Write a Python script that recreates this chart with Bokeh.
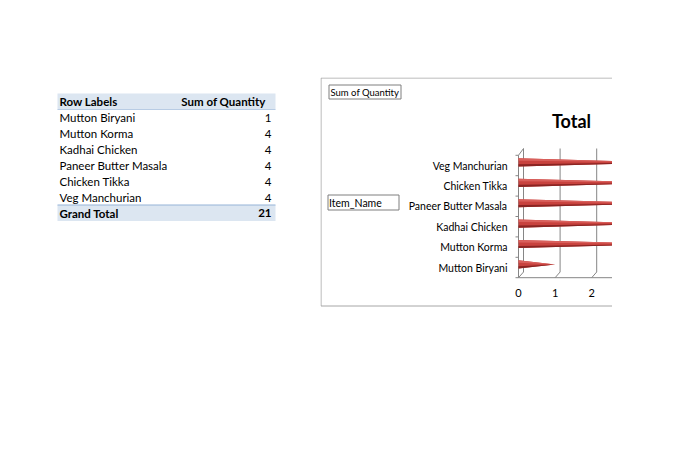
from bokeh.plotting import figure
from bokeh.models import Range1d, Spacer, ColumnDataSource
from bokeh.layouts import row, column
from bokeh.core.properties import value
from bokeh.embed import file_html
from bokeh.resources import INLINE

# ---------------- data ----------------
items = ["Mutton Biryani", "Mutton Korma", "Kadhai Chicken",
         "Paneer Butter Masala", "Chicken Tikka", "Veg Manchurian"]
quantity = [1, 4, 4, 4, 4, 4]
grand_total = 21
header_labels = ["Row Labels", "Sum of Quantity"]
total_label = "Grand Total"
x_ticks = [0, 1, 2]
chart_title = "Total"
value_field = "Sum of Quantity"
row_field = "Item_Name"

FONT = "Lato"
W, H = 680, 459

# ---------------- pivot table (left) ----------------
t = figure(width=320, height=H, x_range=Range1d(0, 320), y_range=Range1d(H, 0),
           output_backend="svg", toolbar_location=None, min_border=0)
t.axis.visible = False
t.grid.visible = False
t.outline_line_color = None
t.background_fill_color = "white"
t.border_fill_color = "white"

tbl_left, tbl_right = 57, 275
row_h = 16
first_y = 117
header_y = first_y - row_h
total_y = first_y + row_h * len(items) - 0.5
TS = "11.5px"

t.quad(left=[tbl_left], right=[tbl_right], top=[header_y - 8], bottom=[header_y + 8],
       fill_color="#DCE6F1", line_color=None)
t.quad(left=[tbl_left], right=[tbl_right], top=[total_y - 8], bottom=[total_y + 8],
       fill_color="#DCE6F1", line_color=None)
t.segment(x0=[tbl_left], x1=[tbl_right], y0=[header_y + 8], y1=[header_y + 8],
          line_color="#B8CCE4", line_width=1)
t.segment(x0=[tbl_left], x1=[tbl_right], y0=[total_y - 8], y1=[total_y - 8],
          line_color="#95B3D7", line_width=1)

row_ys = [first_y + row_h * i for i in range(len(items))]
src = ColumnDataSource(dict(name=items, q=[str(v) for v in quantity], y=row_ys))
t.text(x=59, y="y", text="name", source=src, text_font=value(FONT),
       text_font_size=TS, text_baseline="middle", text_align="left", text_color="#000000")
t.text(x=271, y="y", text="q", source=src, text_font=value(FONT),
       text_font_size=TS, text_baseline="middle", text_align="right", text_color="#000000")
t.text(x=[59], y=[header_y], text=[header_labels[0]], text_font=value(FONT),
       text_font_size=TS, text_font_style="bold", text_baseline="middle", text_align="left")
t.text(x=[265], y=[header_y], text=[header_labels[1]], text_font=value(FONT),
       text_font_size=TS, text_font_style="bold", text_baseline="middle", text_align="right")
t.text(x=[59], y=[total_y], text=[total_label], text_font=value(FONT),
       text_font_size=TS, text_font_style="bold", text_baseline="middle", text_align="left")
t.text(x=[271], y=[total_y], text=[str(grand_total)], text_font=value(FONT),
       text_font_size=TS, text_font_style="bold", text_baseline="middle", text_align="right")

# ---------------- cone chart (right) ----------------
CX0, CY0, CW, CH = 320, 77, 292, 230   # chart area on the page
X0PX, UNIT_X = 518.0, 36.6             # value 0 position, px per unit
Y0PX, UNIT_Y = 267.0, 20.4             # first category position, px per category

def dx_(px):   # page px -> value units
    return (px - X0PX) / UNIT_X
def dy_(py):   # page px -> category units
    return (Y0PX - py) / UNIT_Y

p = figure(width=CW, height=CH,
           x_range=Range1d(dx_(CX0), dx_(CX0 + CW)),
           y_range=Range1d(dy_(CY0 + CH), dy_(CY0)),
           output_backend="svg", toolbar_location=None, min_border=0)
p.axis.visible = False
p.grid.visible = False
p.outline_line_color = None
p.background_fill_color = "white"
p.border_fill_color = "white"

AX = "#868686"
n = len(items)
top_back = dy_(148)
floor_front = -0.5
floor_back = dy_(271.5)
depth_x = dx_(523) - dx_(518)

# back wall gridlines with 3D slant to the floor front edge
p.multi_line(xs=[[tk + depth_x, tk + depth_x, tk] for tk in x_ticks],
             ys=[[top_back, floor_back, floor_front] for _ in x_ticks],
             line_color=AX, line_width=1)
# front category axis line with slant to the wall top
p.line(x=[0, 0, depth_x], y=[floor_front, n - 0.5, top_back], line_color=AX, line_width=1)
# floor front edge (value axis line)
p.line(x=[0, dx_(CX0 + CW)], y=[floor_front, floor_front], line_color=AX, line_width=1)
# category boundary ticks
bounds = [i - 0.5 for i in range(n + 1)]
p.segment(x0=[dx_(515)] * len(bounds), x1=[0] * len(bounds), y0=bounds, y1=bounds,
          line_color=AX, line_width=1)

# cones
depth_y = 0.15
h = 0.2
ys = [i + depth_y for i in range(n)]
p.patches(xs=[[0, 0, v] for v in quantity], ys=[[y + h, y - h, y] for y in ys],
          fill_color="#C8423E", line_color=None)
p.patches(xs=[[0, 0, v] for v in quantity], ys=[[y + h, y + 0.4 * h, y] for y in ys],
          fill_color="#D9605C", line_color=None)
p.patches(xs=[[0, 0, v] for v in quantity], ys=[[y - 0.45 * h, y - h, y] for y in ys],
          fill_color="#8A2422", line_color=None)

# category labels and value tick labels
p.text(x=[dx_(507)] * n, y=list(range(n)), text=items, text_font=value(FONT),
       text_font_size="10.5px", text_align="right", text_baseline="middle",
       text_color="#000000")
p.text(x=x_ticks, y=[dy_(292)] * len(x_ticks), text=[str(v) for v in x_ticks],
       text_font=value(FONT), text_font_size="11px", text_align="center",
       text_baseline="middle", text_color="#000000")

# title
p.text(x=[dx_(571)], y=[dy_(120.5)], text=[chart_title], text_font=value(FONT),
       text_font_size="18px", text_font_style="bold", text_align="center",
       text_baseline="middle", text_color="#000000")

# field buttons
p.quad(left=[dx_(328.5), dx_(327.5)], right=[dx_(400.5), dx_(398.5)],
       top=[dy_(84.5), dy_(194.5)], bottom=[dy_(98.5), dy_(209.5)],
       fill_color="white", line_color="#7F7F7F", line_width=1)
p.text(x=[dx_(330)], y=[dy_(91.5)], text=[value_field], text_font=value(FONT),
       text_font_size="9.5px", text_align="left", text_baseline="middle", text_color="#000000")
p.text(x=[dx_(328.5)], y=[dy_(202)], text=[row_field], text_font=value(FONT),
       text_font_size="10.5px", text_align="left", text_baseline="middle", text_color="#000000")

# chart area border (right side cut off by the window)
p.line(x=[dx_(CX0 + CW + 2), dx_(CX0 + 0.5), dx_(CX0 + 0.5), dx_(CX0 + CW + 2)],
       y=[dy_(CY0 + 0.5), dy_(CY0 + 0.5), dy_(CY0 + CH - 1.5), dy_(CY0 + CH - 1.5)],
       line_color="#A6A6A6", line_width=1)

layout = row(t, column(Spacer(width=CW, height=CY0), p, Spacer(width=CW, height=H - CY0 - CH)),
             Spacer(width=W - CX0 - CW, height=H))

open("out.html", "w").write(file_html(layout, INLINE))
